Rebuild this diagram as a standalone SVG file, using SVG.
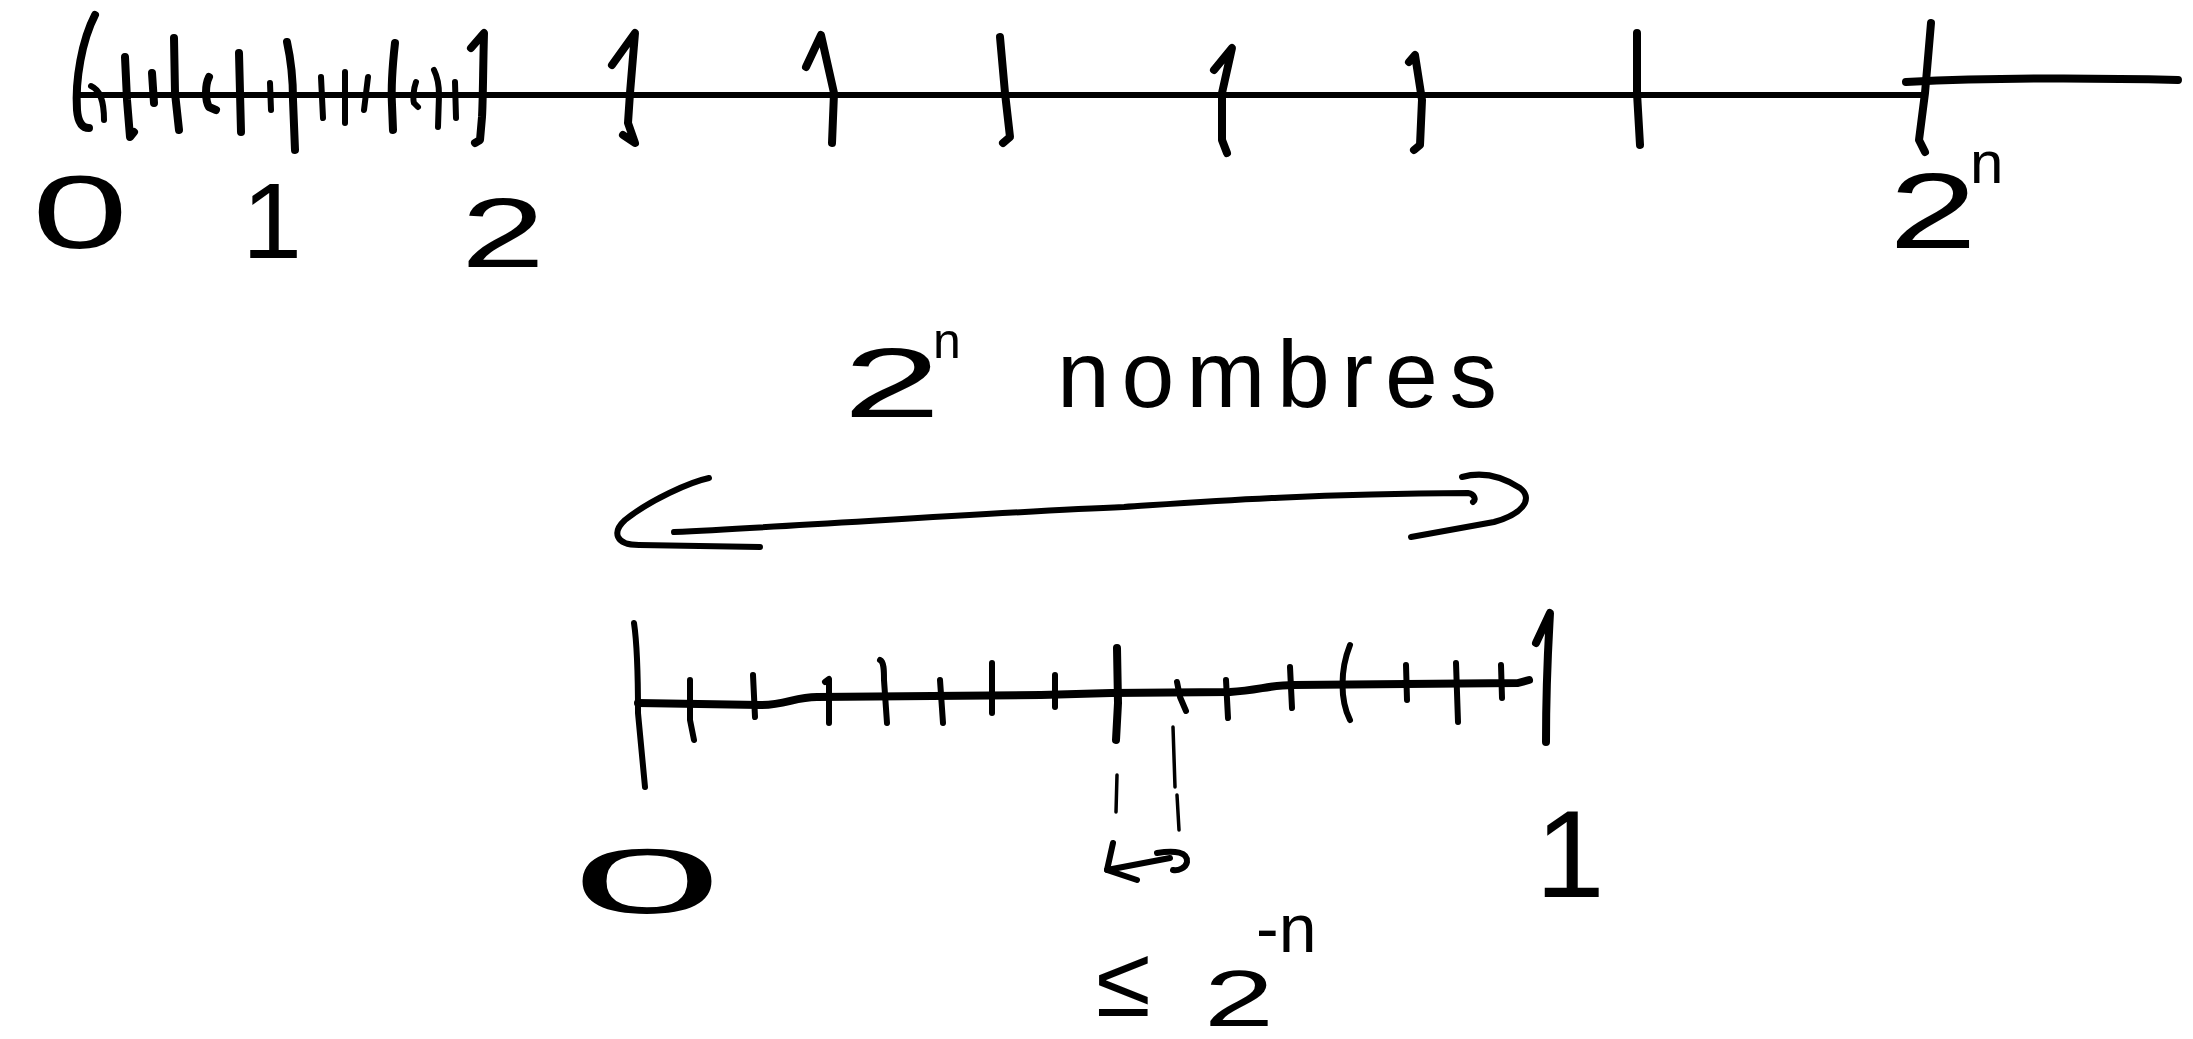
<svg xmlns="http://www.w3.org/2000/svg" width="2193" height="1039" viewBox="0 0 2193 1039">
<style>
.s{fill:none;stroke:#000;stroke-linecap:round;stroke-linejoin:round}
.line{stroke-width:6}
.tick{stroke-width:8}
.thin{stroke-width:6}
.dash{stroke-width:3.5}
.lbl{font-family:"Liberation Sans",Arial,sans-serif;fill:#000}
</style>
<rect width="2193" height="1039" fill="#fff"/>
<g id="top-axis">
<path class="s line" d="M80,95 L1922,95"/>
<path class="s tick" d="M1906,82 C1990,78 2100,78 2178,80"/>
<g id="top-ticks" class="s tick">
<path d="M95,15 C82,40 75,80 77,110 C78,122 82,128 89,128"/>
<path class="thin" d="M91,86 C100,90 104,100 104,120"/>
<path d="M125,57 L127,100 L130,137 L134,132"/>
<path d="M152,73 L154,103"/>
<path d="M174,38 L175,93 L179,130"/>
<path d="M209,77 C205,85 205,100 209,107 L216,110"/>
<path d="M239,53 L241,132"/>
<path class="thin" d="M270,83 L271,110"/>
<path d="M287,42 C291,60 293,80 293,100 L295,150"/>
<path class="thin" d="M321,77 L323,118"/>
<path class="thin" d="M345,72 L345,123"/>
<path class="thin" d="M368,77 L364,110"/>
<path d="M395,43 C392,70 391,87 392,105 L393,130"/>
<path class="thin" d="M416,82 C413,90 413,100 414,103 L418,107"/>
<path class="thin" d="M434,70 C438,78 439,87 439,95 L438,127"/>
<path class="thin" d="M455,82 L456,118"/>
<path d="M471,48 L484,33 C483,70 483,100 482,117 L480,140 L475,143"/>
<path d="M612,65 L635,33 L630,93 L628,123 L635,143 L623,135"/>
<path d="M806,67 L821,35 L834,93 L832,143"/>
<path d="M1000,37 L1005,93 L1010,137 L1003,143"/>
<path d="M1214,70 L1232,48 L1222,93 L1222,140 L1227,153"/>
<path d="M1409,62 L1415,55 L1422,100 L1420,145 L1414,150"/>
<path d="M1637,33 L1637,93 L1640,145"/>
<path d="M1931,23 L1925,93 L1919,140 L1925,152"/>
</g>
</g>
<g id="top-labels">
<text class="lbl" x="32" y="248" font-size="104" textLength="96" lengthAdjust="spacingAndGlyphs">0</text>
<text class="lbl" x="272" y="258" font-size="108" text-anchor="middle">1</text>
<text class="lbl" x="461" y="267" font-size="98" textLength="84" lengthAdjust="spacingAndGlyphs">2</text>
<text class="lbl" x="1889" y="248" font-size="108" textLength="88" lengthAdjust="spacingAndGlyphs">2</text>
<text class="lbl" x="1970" y="183" font-size="60">n</text>
</g>
<g id="count-label">
<text class="lbl" x="843" y="417" font-size="98" textLength="98" lengthAdjust="spacingAndGlyphs">2</text>
<text class="lbl" x="933" y="358" font-size="50">n</text>
<text class="lbl" x="1057" y="407" font-size="95" textLength="440" lengthAdjust="spacing">nombres</text>
</g>
<g id="bottom-axis">
<path class="s tick" d="M638,703 L760,705 C785,705 795,697 817,697 L1041,695 L1111,693 L1230,692 C1260,690 1270,685 1294,685 L1518,683 L1529,680"/>
<path class="s thin" d="M634,623 C638,650 638,700 638,713 L645,787"/>
<path class="s tick" d="M1536,643 L1550,613 C1548,650 1546,680 1546,742"/>
<g id="bottom-ticks" class="s thin">
<path d="M690,680 L690,720 L694,740"/>
<path d="M753,675 L755,717"/>
<path d="M825,682 L829,679 L829,723"/>
<path d="M880,660 C884,662 884,670 884,680 L887,723"/>
<path d="M940,680 L943,723"/>
<path d="M992,663 L992,713"/>
<path d="M1055,675 L1055,707"/>
<path class="tick" d="M1117,648 L1118,703 L1116,740"/>
<path d="M1177,682 L1180,697 L1186,711"/>
<path d="M1226,680 L1228,718"/>
<path d="M1290,667 L1292,708"/>
<path d="M1350,645 C1340,670 1340,700 1350,720"/>
<path d="M1406,665 L1407,700"/>
<path d="M1456,663 L1458,722"/>
<path d="M1501,665 L1502,698"/>
</g>
</g>
<g id="bottom-labels">
<text class="lbl" x="572" y="913" font-size="92" textLength="150" lengthAdjust="spacingAndGlyphs">0</text>
<text class="lbl" x="1570" y="897" font-size="125" text-anchor="middle">1</text>
<text class="lbl" x="1096" y="1016" font-size="100">≤</text>
<text class="lbl" x="1204" y="1026" font-size="80" textLength="70" lengthAdjust="spacingAndGlyphs">2</text>
<text class="lbl" x="1256" y="952" font-size="68">-n</text>
</g>
<g id="connectors">
<g id="span-arrow" class="s thin">
<path d="M674,532 C800,526 1000,512 1124,507 C1200,502 1300,494 1468,493 C1475,494 1476,500 1473,502"/>
<path d="M709,478 C690,482 650,500 625,520 C612,532 615,545 639,545 L760,547"/>
<path d="M1462,477 C1480,472 1500,475 1520,488 C1535,500 1520,515 1494,522 L1411,537"/>
</g>
<g id="gap-marker" class="s">
<path class="dash" d="M1117,775 L1116,812"/>
<path class="dash" d="M1173,727 L1175,787"/>
<path class="dash" d="M1177,795 L1179,830"/>
<path class="thin" d="M1113,843 L1107,870 L1137,880"/>
<path class="thin" d="M1107,870 L1170,858"/>
<path class="thin" d="M1157,853 C1175,850 1188,852 1187,862 C1186,868 1178,871 1173,870"/>
</g>
</g>
</svg>
